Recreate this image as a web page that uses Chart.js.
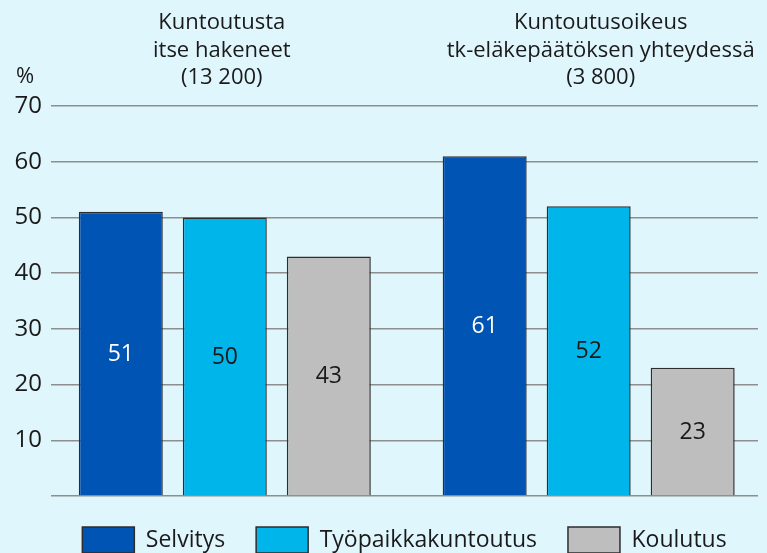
<!DOCTYPE html>
<html>
<head>
<meta charset="utf-8">
<script src="https://cdn.jsdelivr.net/npm/chart.js@4.4.1/dist/chart.umd.min.js"></script>
<style>
  html, body { margin: 0; padding: 0; background: #e0f6fd; }
  #wrap { width: 767px; height: 553px; }
</style>
</head>
<body>
<div id="wrap"><canvas id="c" width="767" height="553"></canvas></div>
<script>
// ---- data ----
const groups = ["Kuntoutusta itse hakeneet (13 200)", "Kuntoutusoikeus tk-eläkepäätöksen yhteydessä (3 800)"];
const groupTitleLines = [
  ["Kuntoutusta", "itse hakeneet", "(13 200)"],
  ["Kuntoutusoikeus", "tk-eläkepäätöksen yhteydessä", "(3 800)"]
];
const seriesNames = ["Selvitys", "Työpaikkakuntoutus", "Koulutus"];
const selvitys = [51, 61];
const tyopaikkakuntoutus = [50, 52];
const koulutus = [43, 23];
const yTicks = [10, 20, 30, 40, 50, 60, 70];
const yUnit = "%";

// ---- styles ----
const FONT = "'Open Sans', 'Noto Sans', sans-serif";
const TEXT = "#1a1a1a";
const colors = ["#0054b4", "#00b5ea", "#bebebe"];
const labelColors = ["#ffffff", "#1a1a1a", "#1a1a1a"];
const seriesValues = [selvitys, tyopaikkakuntoutus, koulutus];

const datasets = seriesNames.map((name, s) => ({
  label: name,
  data: seriesValues[s].map((v, i) => ({ x: i, y: v })),
  backgroundColor: colors[s],
  borderColor: "#2d2d2d",
  borderWidth: 1.5,
  categoryPercentage: 0.8574,
  barPercentage: 0.8077
}));

const bgPlugin = {
  id: "bg",
  beforeDraw(chart) {
    const { ctx, width, height } = chart;
    ctx.save();
    ctx.fillStyle = "#e0f6fd";
    ctx.fillRect(0, 0, width, height);
    ctx.restore();
  }
};

const titlesPlugin = {
  id: "groupTitles",
  afterDraw(chart) {
    const { ctx } = chart;
    const xs = chart.scales.x;
    const shifts = [-3, 12];
    const baselines = [29, 56.5, 84];
    ctx.save();
    ctx.font = "22px " + FONT;
    ctx.fillStyle = TEXT;
    ctx.textAlign = "center";
    ctx.textBaseline = "alphabetic";
    groupTitleLines.forEach((lines, g) => {
      const cx = xs.getPixelForValue(g) + shifts[g];
      lines.forEach((t, k) => ctx.fillText(t, cx, baselines[k]));
    });
    // unit
    ctx.textAlign = "left";
    ctx.fillText(yUnit, 16, 83);
    ctx.restore();
  }
};

const valueLabels = {
  id: "valueLabels",
  afterDatasetsDraw(chart) {
    const { ctx } = chart;
    ctx.save();
    ctx.font = "23px " + FONT;
    ctx.textAlign = "center";
    ctx.textBaseline = "middle";
    chart.data.datasets.forEach((ds, s) => {
      const meta = chart.getDatasetMeta(s);
      meta.data.forEach((bar, i) => {
        ctx.fillStyle = labelColors[s];
        ctx.fillText(String(seriesValues[s][i]), bar.x, (bar.y + bar.base) / 2 + 1);
      });
    });
    ctx.restore();
  }
};

new Chart(document.getElementById("c"), {
  type: "bar",
  data: { datasets },
  plugins: [bgPlugin, titlesPlugin, valueLabels],
  options: {
    responsive: false,
    animation: false,
    events: [],
    layout: { padding: { top: 106, right: 9, bottom: -10, left: 0 } },
    scales: {
      x: {
        type: "linear",
        display: false,
        offset: false,
        min: -0.4776,
        max: 1.4653,
        afterBuildTicks(scale) { scale.ticks = groups.map((g, i) => ({ value: i })); }
      },
      y: {
        min: 0,
        max: 70,
        afterFit(scale) { scale.width = 51; },
        afterBuildTicks(scale) { scale.ticks = [0].concat(yTicks).map(v => ({ value: v })); },
        ticks: {
          padding: 9,
          color: TEXT,
          font: { family: FONT, size: 24 },
          callback: v => (yTicks.includes(v) ? String(v) : "")
        },
        grid: { color: "#8e8e8e", lineWidth: 1.5, drawTicks: false },
        border: { display: false }
      }
    },
    plugins: {
      tooltip: { enabled: false },
      legend: {
        position: "bottom",
        fullSize: false,
        labels: {
          boxWidth: 52,
          boxHeight: 26,
          padding: 31,
          color: TEXT,
          font: { family: FONT, size: 23 }
        }
      }
    }
  }
});
</script>
</body>
</html>
